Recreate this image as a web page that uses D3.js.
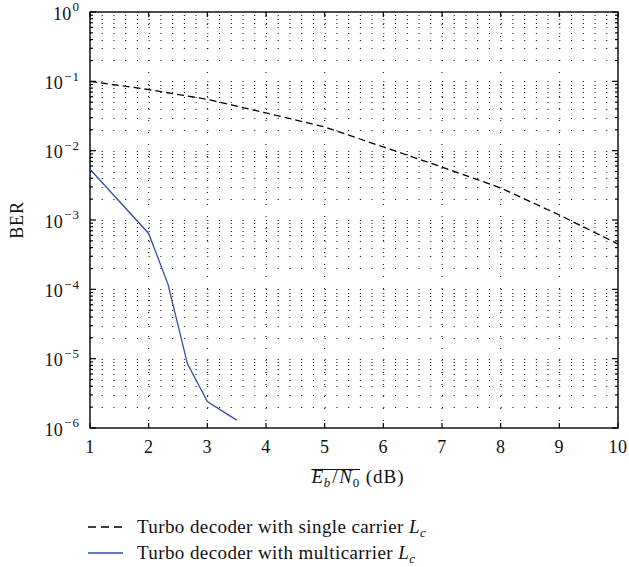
<!DOCTYPE html>
<html>
<head>
<meta charset="utf-8">
<script src="https://cdn.jsdelivr.net/npm/d3@7"></script>
<style>
  html, body { margin: 0; padding: 0; background: #fff; }
  svg { display: block; }
  text { font-family: "Liberation Serif", "DejaVu Serif", serif; fill: #111; }
</style>
</head>
<body>
<svg id="chart" width="629" height="567"></svg>
<script>
// ---- data ----
const snrSingle = [1, 2, 3, 4, 5, 6, 7, 8, 9, 10];
const berSingle = [0.1, 0.076, 0.055, 0.035, 0.022, 0.0113, 0.0058, 0.0029, 0.00118, 0.00045];
const snrMulti = [1, 2, 2.33, 2.66, 3, 3.5];
const berMulti = [0.0054, 0.00064, 0.000118, 0.0000085, 0.0000024, 0.0000013];
const xTicks = [1, 2, 3, 4, 5, 6, 7, 8, 9, 10];
const yTickExponents = [0, -1, -2, -3, -4, -5, -6];
const legendLabels = ["Turbo decoder with single carrier ", "Turbo decoder with multicarrier "];

// ---- layout ----
const svg = d3.select("#chart");
const L = 90, R = 618, T = 12, B = 428;
const x = d3.scaleLinear().domain([1, 10]).range([L, R]);
const y = d3.scaleLog().domain([1e-6, 1]).range([B, T]);

// ---- grid ----
const grid = svg.append("g");
const yGridVals = [];
for (let k = -6; k < 0; k++) for (let m = 1; m <= 9; m++) {
  const v = m * Math.pow(10, k);
  if (v > 1e-6) yGridVals.push(v);
}
const period = x(1.2) - x(1);
grid.selectAll("line.h").data(yGridVals).enter().append("line")
  .attr("x1", x(1)).attr("x2", x(10))
  .attr("y1", d => Math.round(y(d)) + 0.5).attr("y2", d => Math.round(y(d)) + 0.5)
  .attr("stroke", "#000").attr("stroke-width", 1)
  .attr("stroke-dasharray", `1,${period - 1}`);
grid.selectAll("line.v").data(xTicks.slice(1, -1)).enter().append("line")
  .attr("x1", d => x(d)).attr("x2", d => x(d))
  .attr("y1", T).attr("y2", B)
  .attr("stroke", "#000").attr("stroke-width", 1)
  .attr("stroke-dasharray", "1,11");

// ---- ticks ----
const ticks = svg.append("g").attr("stroke", "#000").attr("stroke-width", 1.2);
xTicks.forEach(v => {
  ticks.append("line").attr("x1", x(v)).attr("x2", x(v)).attr("y1", B).attr("y2", B - 5);
  ticks.append("line").attr("x1", x(v)).attr("x2", x(v)).attr("y1", T).attr("y2", T + 5);
});
yGridVals.concat([1e-6, 1]).forEach(v => {
  const major = Math.abs(Math.log10(v) - Math.round(Math.log10(v))) < 1e-9;
  const len = major ? 6 : 3;
  ticks.append("line").attr("x1", L).attr("x2", L + len).attr("y1", y(v)).attr("y2", y(v));
  ticks.append("line").attr("x1", R).attr("x2", R - len).attr("y1", y(v)).attr("y2", y(v));
});

// ---- frame ----
svg.append("rect").attr("x", L).attr("y", T).attr("width", R - L).attr("height", B - T)
  .attr("fill", "none").attr("stroke", "#000").attr("stroke-width", 1.4);

// ---- tick labels ----
xTicks.forEach(v => {
  svg.append("text").attr("x", x(v)).attr("y", B + 25).attr("text-anchor", "middle")
    .attr("font-size", 18).attr("letter-spacing", 0.5).text(v);
});
yTickExponents.forEach(e => {
  const t = svg.append("text").attr("x", L - 10).attr("y", y(Math.pow(10, e)) + 7.7)
    .attr("text-anchor", "end").attr("font-size", 18).attr("letter-spacing", 0.3);
  t.append("tspan").text("10");
  t.append("tspan").attr("font-size", 13).attr("dx", 1).attr("dy", -8.5)
    .attr("letter-spacing", 1).text(e === 0 ? "0" : "\u2212" + (-e));
});

// ---- axis titles ----
svg.append("text").attr("transform", `translate(23,${(T + B) / 2}) rotate(-90)`)
  .attr("text-anchor", "middle").attr("font-size", 18).attr("letter-spacing", 0.8).text("BER");

const xl = svg.append("g");
const t1 = xl.append("text").attr("y", 483).attr("font-size", 19).attr("letter-spacing", 0.8);
t1.append("tspan").attr("font-style", "italic").text("E");
t1.append("tspan").attr("font-style", "italic").attr("font-size", 13).attr("dy", 4).text("b");
t1.append("tspan").attr("dy", -4).attr("dx", 1).text("/");
t1.append("tspan").attr("font-style", "italic").attr("dx", 1).text("N");
t1.append("tspan").attr("font-size", 13).attr("dy", 4).text("0");
const t2 = xl.append("text").attr("y", 483).attr("font-size", 19).attr("letter-spacing", 1).text("\u00a0(dB)");
const w1 = t1.node().getComputedTextLength() + 2;
const w2 = t2.node().getComputedTextLength();
const x0 = 358 - (w1 + w2) / 2;
t1.attr("x", x0);
t2.attr("x", x0 + w1);
xl.append("line").attr("x1", x0).attr("x2", x0 + w1).attr("y1", 469.5).attr("y2", 469.5)
  .attr("stroke", "#111").attr("stroke-width", 1);

// ---- curves ----
const line = d3.line().x(d => x(d[0])).y(d => y(d[1]));
svg.append("path").datum(d3.zip(snrSingle, berSingle)).attr("d", line)
  .attr("fill", "none").attr("stroke", "#000").attr("stroke-width", 1.3)
  .attr("stroke-dasharray", "7,4");
svg.append("path").datum(d3.zip(snrMulti, berMulti)).attr("d", line)
  .attr("fill", "none").attr("stroke", "#2f4fa6").attr("stroke-width", 1.3);

// ---- legend ----
const legendStyles = [{ color: "#000", dash: "8,5" }, { color: "#2f4fa6", dash: null }];
legendLabels.forEach((lab, i) => {
  const yy = 527 + i * 26;
  svg.append("line").attr("x1", 88).attr("x2", 123).attr("y1", yy).attr("y2", yy)
    .attr("stroke", legendStyles[i].color).attr("stroke-width", 1.3)
    .attr("stroke-dasharray", legendStyles[i].dash);
  const t = svg.append("text").attr("x", 137).attr("y", yy + 6).attr("font-size", 19)
    .attr("letter-spacing", 0.4);
  t.append("tspan").text(lab);
  t.append("tspan").attr("font-style", "italic").text("L");
  t.append("tspan").attr("font-style", "italic").attr("font-size", 13).attr("dy", 4).text("c");
});
</script>
</body>
</html>
